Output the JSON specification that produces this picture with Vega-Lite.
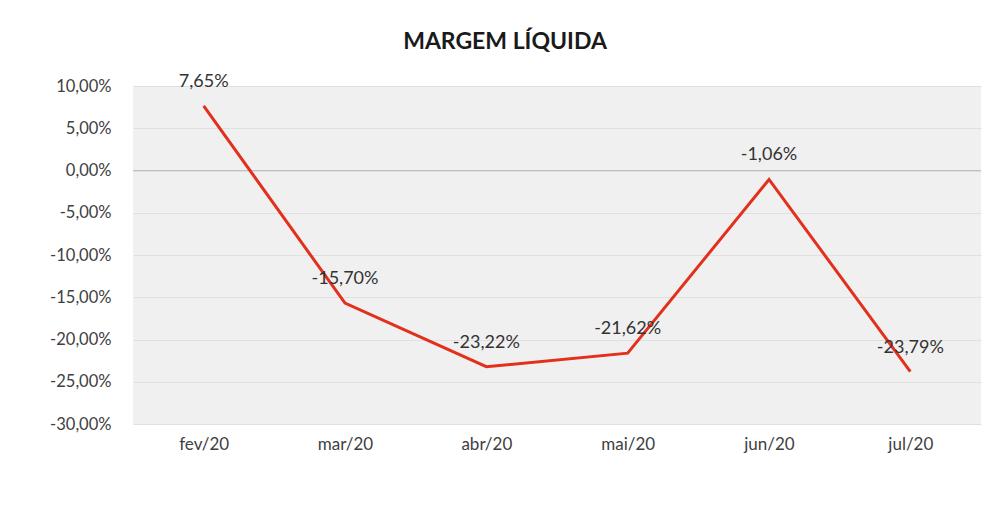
{
  "$schema": "https://vega.github.io/schema/vega-lite/v6.json",
  "width": 848,
  "height": 338,
  "autosize": {"type": "none"},
  "padding": {"left": 133, "top": 86, "right": 4, "bottom": 92},
  "background": "white",
  "config": {
    "locale": {"number": {"decimal": ",", "thousands": ".", "grouping": [3], "currency": ["R$", ""], "minus": "-"}},
    "font": "Lato",
    "view": {"fill": "#f0f0f0", "stroke": null}
  },
  "title": {"text": "MARGEM LÍQUIDA", "fontSize": 23, "fontWeight": "bold", "color": "#1a1a1a", "anchor": "middle", "dx": -52, "offset": 19},
  "data": {"values": [
    {"mes": "fev/20", "margem": 0.0765},
    {"mes": "mar/20", "margem": -0.1570},
    {"mes": "abr/20", "margem": -0.2322},
    {"mes": "mai/20", "margem": -0.2162},
    {"mes": "jun/20", "margem": -0.0106},
    {"mes": "jul/20", "margem": -0.2379}
  ]},
  "encoding": {
    "x": {"field": "mes", "type": "ordinal", "sort": null, "scale": {"type": "point", "padding": 0.5},
      "axis": {"title": null, "labelAngle": 0, "labelFontSize": 17, "labelColor": "#404040", "domain": false, "ticks": false, "labelPadding": 12, "grid": false}},
    "y": {"field": "margem", "type": "quantitative", "scale": {"domain": [-0.3, 0.1], "nice": false},
      "axis": {"title": null, "format": ".2%", "values": [-0.3, -0.25, -0.2, -0.15, -0.1, -0.05, 0, 0.05, 0.1], "labelFontSize": 16.5, "labelColor": "#404040", "domain": false, "ticks": false, "labelPadding": 22, "gridColor": "#e0e0e0"}}
  },
  "layer": [
    {"mark": {"type": "rule", "color": "#bfbfbf", "strokeWidth": 1}, "encoding": {"y": {"datum": 0}, "x": null}},
    {"mark": {"type": "line", "color": "#e3301c", "strokeWidth": 3}},
    {"mark": {"type": "text", "dy": -24, "fontSize": 18, "color": "#333333"}, "encoding": {"text": {"field": "margem", "type": "quantitative", "format": ".2%"}}}
  ]
}
